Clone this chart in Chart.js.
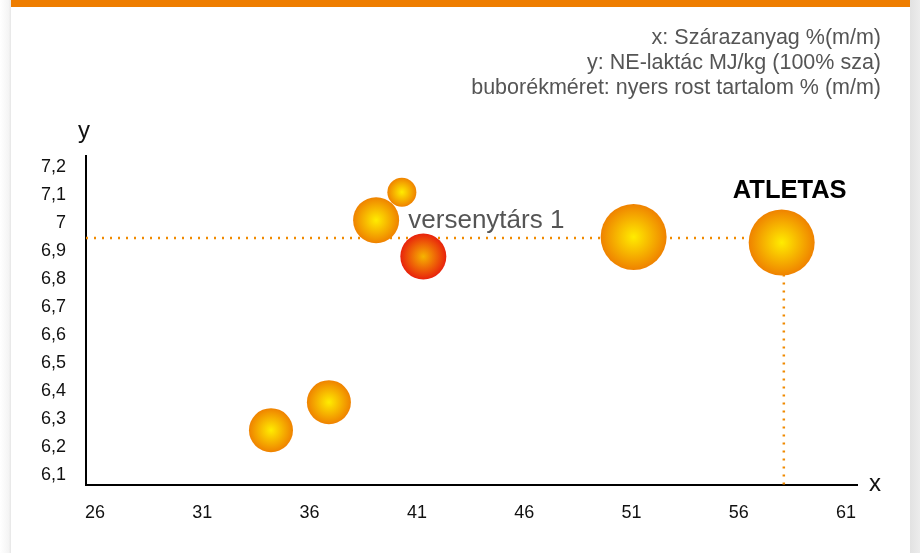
<!DOCTYPE html>
<html>
<head>
<meta charset="utf-8">
<script src="https://cdn.jsdelivr.net/npm/chart.js@4/dist/chart.umd.min.js"></script>
<style>
  html, body { margin: 0; padding: 0; background: #fff; }
  #wrap { position: relative; width: 920px; height: 553px; overflow: hidden; }
  #leftEdge { position: absolute; left: 0; top: 0; width: 11px; height: 553px;
    background: linear-gradient(to right, #fff, #f4f4f4 80%, #e6e6e6); }
  #rightEdge { position: absolute; left: 910px; top: 0; width: 10px; height: 553px;
    background: linear-gradient(to right, #e2e2e2, #ececec); }
  #topBar { position: absolute; left: 11px; top: 0; width: 899px; height: 7px; background: #ee7d00; }
  canvas { position: absolute; left: 0; top: 0; }
</style>
</head>
<body>
<div id="wrap">
  <div id="leftEdge"></div>
  <div id="rightEdge"></div>
  <div id="topBar"></div>
  <canvas id="bubbles" width="920" height="553"></canvas>
</div>
<script>
"use strict";
{
  // x: szárazanyag %, y: NE-laktác MJ/kg, r: buborék (nyers rost)
  const pontX = [34.2, 36.9, 39.1, 40.3, 41.3, 51.1, 58.0];
  const pontY = [6.26, 6.36, 7.01, 7.11, 6.88, 6.95, 6.93];
  const rostMeret = [22, 22, 23, 14.5, 23, 33, 33];
  const pontNev = ["", "", "", "", "versenytárs 1", "", "ATLETAS"];
  const xTicks = [26, 31, 36, 41, 46, 51, 56, 61];
  const yTicks = [6.1, 6.2, 6.3, 6.4, 6.5, 6.6, 6.7, 6.8, 6.9, 7, 7.1, 7.2];
  // ATLETAS reference lines
  const refVizszintes = [{ x: 25.58, y: 6.946 }, { x: 56.4, y: 6.946 }];
  const refFuggoleges = [{ x: 58.1, y: 6.93 }, { x: 58.1, y: 6.064 }];

  const points = pontX.map((x, i) => ({ x: x, y: pontY[i], r: rostMeret[i] }));

  function bubbleFill(ctx) {
    const chart = ctx.chart;
    if (!chart.chartArea || ctx.raw == null) return "#f5a000";
    const cx = chart.scales.x.getPixelForValue(ctx.raw.x);
    const cy = chart.scales.y.getPixelForValue(ctx.raw.y);
    const g = chart.ctx.createRadialGradient(cx, cy, 0, cx, cy, ctx.raw.r);
    if (pontNev[ctx.dataIndex] === "versenytárs 1") {
      g.addColorStop(0, "#f6b400");
      g.addColorStop(1, "#e8220c");
    } else {
      g.addColorStop(0, "#ffec00");
      g.addColorStop(1, "#ef8200");
    }
    return g;
  }

  const textPlugin = {
    id: "texts",
    afterDatasetsDraw(chart) {
      const c = chart.ctx;
      const sx = chart.scales.x, sy = chart.scales.y;
      c.save();
      c.fillStyle = "#555";
      c.font = "21.5px 'Liberation Sans', Arial, sans-serif";
      c.textAlign = "right";
      c.textBaseline = "middle";
      c.fillText("x: Szárazanyag %(m/m)", 881, 38);
      c.fillText("y: NE-laktác MJ/kg (100% sza)", 881, 63);
      c.fillText("buborékméret: nyers rost tartalom % (m/m)", 881, 88);

      c.fillStyle = "#111";
      c.font = "24px 'Liberation Sans', Arial, sans-serif";
      c.textAlign = "center";
      c.fillText("y", 84, 131);
      c.fillText("x", 875, 484);

      pontNev.forEach((nev, i) => {
        if (!nev) return;
        const px = sx.getPixelForValue(pontX[i]);
        const py = sy.getPixelForValue(pontY[i]);
        if (nev === "ATLETAS") {
          c.fillStyle = "#000";
          c.font = "bold 25.5px 'Liberation Sans', Arial, sans-serif";
          c.textAlign = "center";
          c.fillText(nev, px + 8, py - 52);
        } else {
          c.fillStyle = "#555";
          c.font = "26px 'Liberation Sans', Arial, sans-serif";
          c.textAlign = "left";
          c.fillText(nev, px - 15, py - 36);
        }
      });
      c.restore();
    }
  };

  const dotted = {
    type: "line",
    borderColor: "#f08a00",
    borderWidth: 2.5,
    borderDash: [2, 6],
    pointRadius: 0,
    fill: false,
    order: 2
  };

  new Chart(document.getElementById("bubbles"), {
    type: "bubble",
    data: {
      datasets: [
        Object.assign({ data: refVizszintes }, dotted),
        Object.assign({ data: refFuggoleges }, dotted),
        {
          data: points,
          backgroundColor: bubbleFill,
          borderWidth: 0,
          hoverBorderWidth: 0,
          order: 1
        }
      ]
    },
    options: {
      responsive: false,
      animation: false,
      events: [],
      layout: { padding: { left: 16, right: 63, top: 156, bottom: 28 } },
      plugins: { legend: { display: false }, tooltip: { enabled: false } },
      scales: {
        x: {
          type: "linear",
          min: 25.58,
          max: 61.51,
          afterBuildTicks: (s) => { s.ticks = xTicks.map((v) => ({ value: v })); },
          afterFit: (s) => { s.height = 40; },
          grid: { display: false, drawTicks: false },
          border: { display: true, color: "#000", width: 2 },
          ticks: {
            padding: 17,
            color: "#111",
            font: { size: 18, family: "'Liberation Sans', Arial, sans-serif" },
            maxRotation: 0
          }
        },
        y: {
          type: "linear",
          min: 6.0643,
          max: 7.239,
          afterBuildTicks: (s) => { s.ticks = yTicks.map((v) => ({ value: v })); },
          afterFit: (s) => { s.width = 70; },
          grid: { display: false, drawTicks: false },
          border: { display: true, color: "#000", width: 2 },
          ticks: {
            padding: 20,
            color: "#111",
            font: { size: 18, family: "'Liberation Sans', Arial, sans-serif" },
            callback: (v) => String(Math.round(v * 10) / 10).replace(".", ",")
          }
        }
      }
    },
    plugins: [textPlugin]
  });
}
</script>
</body>
</html>
